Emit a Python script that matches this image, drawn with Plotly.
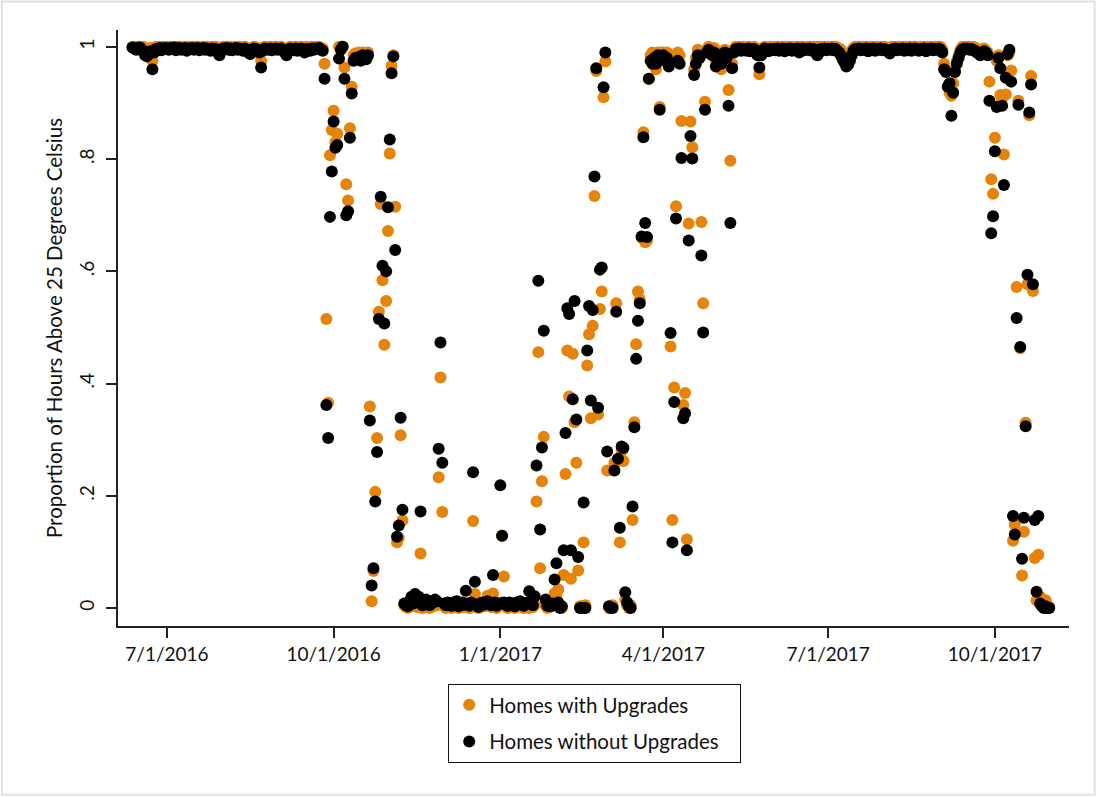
import pandas as pd
import plotly.graph_objects as go

# ---- data: daily proportion of hours above 25 C, by month ----
up_jun16 = [1.0, 1.0, 0.998, 1.0, 1.0, 0.997, 1.0, 0.995, 0.992, 0.995, 0.998, 0.975, 0.996, 1.0, 0.998, 1.0, 0.997, 1.0, 0.999]
no_jun16 = [0.999, 0.997, 0.995, 0.998, 0.999, 0.994, 0.993, 0.985, 0.983, 0.99, 0.992, 0.96, 0.99, 0.996, 0.995, 0.998, 0.994, 0.997, 0.998]
up_jul16 = [1.0, 0.998, 1.0, 0.999, 1.0, 0.997, 1.0, 1.0, 0.998, 0.999, 1.0, 0.996, 1.0, 0.999, 1.0, 0.998, 1.0, 1.0, 0.997, 0.999, 1.0, 0.998, 1.0, 0.999, 0.997, 1.0, 0.998, 1.0, 0.995, 0.99, 0.998]
no_jul16 = [0.997, 0.995, 0.998, 0.996, 0.999, 0.994, 0.997, 0.998, 0.995, 0.996, 0.998, 0.993, 0.997, 0.996, 0.998, 0.995, 0.997, 0.998, 0.994, 0.996, 0.998, 0.995, 0.997, 0.996, 0.993, 0.997, 0.995, 0.996, 0.99, 0.985, 0.994]
up_aug16 = [1.0, 0.999, 1.0, 0.998, 1.0, 0.997, 0.999, 1.0, 0.998, 1.0, 0.999, 0.997, 1.0, 0.998, 0.996, 0.993, 0.997, 1.0, 0.999, 0.998, 0.995, 0.975, 0.996, 1.0, 0.999, 0.998, 1.0, 0.997, 0.999, 1.0, 0.998]
no_aug16 = [0.997, 0.996, 0.998, 0.995, 0.997, 0.994, 0.996, 0.998, 0.995, 0.997, 0.996, 0.993, 0.997, 0.995, 0.99, 0.987, 0.992, 0.997, 0.996, 0.994, 0.99, 0.963, 0.993, 0.997, 0.996, 0.995, 0.997, 0.994, 0.996, 0.997, 0.995]
up_sep16 = [0.999, 1.0, 0.998, 0.996, 0.99, 0.997, 1.0, 0.999, 0.998, 1.0, 0.997, 0.999, 1.0, 0.998, 0.996, 1.0, 0.999, 0.997, 1.0, 0.998, 1.0, 0.999, 1.0, 0.998, 0.997, 0.97, 0.515, 0.366, 0.807, 0.852]
no_sep16 = [0.996, 0.997, 0.994, 0.99, 0.985, 0.993, 0.997, 0.995, 0.994, 0.997, 0.993, 0.995, 0.997, 0.994, 0.99, 0.996, 0.995, 0.993, 0.997, 0.995, 0.997, 0.996, 0.998, 0.995, 0.993, 0.943, 0.362, 0.303, 0.697, 0.778]
up_oct16 = [0.886, 0.83, 0.845, 1.0, 1.0, 1.0, 0.963, 0.755, 0.726, 0.855, 0.929, 0.985, 0.988, 0.985, 0.99, 0.985, 0.99, 0.988, 0.985, 0.99, 0.359, 0.012, 0.066, 0.207, 0.303, 0.528, 0.72, 0.584, 0.469, 0.547, 0.672]
no_oct16 = [0.867, 0.82, 0.825, 0.979, 0.995, 1.0, 0.943, 0.70, 0.707, 0.838, 0.917, 0.975, 0.98, 0.978, 0.982, 0.975, 0.985, 0.98, 0.978, 0.985, 0.334, 0.04, 0.071, 0.19, 0.278, 0.515, 0.733, 0.61, 0.507, 0.60, 0.714]
up_nov16 = [0.81, 0.966, 0.985, 0.715, 0.117, 0.125, 0.308, 0.156, 0.005, 0.002, 0.0, 0.008, 0.01, 0.003, 0.005, 0.002, 0.004, 0.097, 0.0, 0.003, 0.005, 0.002, 0.0, 0.006, 0.003, 0.008, 0.005, 0.233, 0.411, 0.171]
no_nov16 = [0.835, 0.953, 0.983, 0.638, 0.127, 0.147, 0.339, 0.175, 0.008, 0.005, 0.003, 0.012, 0.02, 0.008, 0.025, 0.012, 0.02, 0.172, 0.005, 0.01, 0.015, 0.008, 0.005, 0.012, 0.01, 0.015, 0.012, 0.284, 0.473, 0.259]
up_dec16 = [0.003, 0.0, 0.005, 0.002, 0.0, 0.004, 0.002, 0.006, 0.0, 0.003, 0.005, 0.002, 0.008, 0.003, 0.0, 0.005, 0.155, 0.025, 0.002, 0.0, 0.004, 0.006, 0.003, 0.005, 0.022, 0.004, 0.002, 0.026, 0.005, 0.0, 0.003]
no_dec16 = [0.008, 0.005, 0.01, 0.006, 0.004, 0.01, 0.005, 0.012, 0.003, 0.008, 0.01, 0.006, 0.031, 0.008, 0.004, 0.01, 0.242, 0.047, 0.006, 0.002, 0.008, 0.01, 0.006, 0.01, 0.012, 0.008, 0.005, 0.059, 0.01, 0.004, 0.008]
up_jan17 = [0.01, 0.129, 0.056, 0.003, 0.0, 0.005, 0.002, 0.004, 0.0, 0.006, 0.003, 0.005, 0.002, 0.0, 0.004, 0.003, 0.0, 0.005, 0.002, 0.006, 0.19, 0.456, 0.071, 0.226, 0.305, 0.005, 0.0, 0.003, 0.005, 0.01, 0.026]
no_jan17 = [0.219, 0.129, 0.01, 0.006, 0.004, 0.01, 0.005, 0.008, 0.003, 0.01, 0.008, 0.012, 0.006, 0.004, 0.008, 0.01, 0.03, 0.008, 0.005, 0.021, 0.254, 0.583, 0.14, 0.286, 0.494, 0.015, 0.004, 0.005, 0.003, 0.008, 0.051]
up_feb17 = [0.024, 0.033, 0.005, 0.0, 0.059, 0.239, 0.459, 0.377, 0.052, 0.453, 0.331, 0.259, 0.067, 0.003, 0.003, 0.117, 0.005, 0.432, 0.488, 0.338, 0.503, 0.734, 0.957, 0.345, 0.533, 0.564, 0.91, 0.974]
no_feb17 = [0.08, 0.01, 0.0, 0.003, 0.103, 0.312, 0.534, 0.524, 0.103, 0.372, 0.547, 0.336, 0.091, 0.0, 0.0, 0.188, 0.0, 0.459, 0.538, 0.37, 0.531, 0.769, 0.962, 0.357, 0.603, 0.607, 0.928, 0.99]
up_mar17 = [0.245, 0.0, 0.003, 0.005, 0.259, 0.543, 0.262, 0.117, 0.28, 0.262, 0.015, 0.005, 0.0, 0.005, 0.157, 0.331, 0.47, 0.564, 0.55, 0.66, 0.848, 0.652, 0.655, 0.943, 0.985, 0.99, 0.985, 0.96, 0.99, 0.893, 0.99]
no_mar17 = [0.279, 0.003, 0.0, 0.0, 0.245, 0.528, 0.266, 0.143, 0.288, 0.285, 0.028, 0.01, 0.003, 0.0, 0.181, 0.322, 0.444, 0.512, 0.543, 0.662, 0.839, 0.686, 0.661, 0.943, 0.975, 0.97, 0.98, 0.97, 0.985, 0.888, 0.98]
up_apr17 = [0.99, 0.985, 0.99, 0.98, 0.466, 0.157, 0.393, 0.716, 0.99, 0.985, 0.868, 0.362, 0.383, 0.122, 0.685, 0.867, 0.821, 0.96, 0.98, 0.995, 0.99, 0.688, 0.543, 0.902, 0.995, 1.0, 0.995, 0.99, 0.998, 0.975]
no_apr17 = [0.985, 0.975, 0.98, 0.965, 0.49, 0.117, 0.367, 0.694, 0.975, 0.97, 0.802, 0.338, 0.347, 0.103, 0.655, 0.841, 0.801, 0.95, 0.97, 0.985, 0.98, 0.628, 0.491, 0.888, 0.99, 0.995, 0.99, 0.985, 0.99, 0.965]
up_may17 = [0.985, 0.99, 0.96, 0.99, 0.995, 0.985, 0.923, 0.797, 0.97, 0.995, 1.0, 0.998, 1.0, 0.997, 1.0, 0.999, 0.998, 1.0, 0.997, 0.999, 1.0, 0.998, 0.995, 0.951, 0.99, 0.998, 1.0, 0.999, 0.997, 1.0, 0.998]
no_may17 = [0.975, 0.985, 0.97, 0.985, 0.99, 0.98, 0.895, 0.686, 0.962, 0.99, 0.996, 0.994, 0.997, 0.993, 0.996, 0.995, 0.993, 0.997, 0.992, 0.995, 0.996, 0.993, 0.985, 0.963, 0.985, 0.994, 0.997, 0.995, 0.992, 0.996, 0.994]
up_jun17 = [1.0, 0.999, 1.0, 0.998, 1.0, 1.0, 0.997, 1.0, 0.999, 1.0, 0.998, 1.0, 0.999, 1.0, 0.997, 1.0, 1.0, 0.998, 1.0, 0.999, 1.0, 0.998, 1.0, 0.999, 1.0, 0.997, 1.0, 0.999, 1.0, 0.998]
no_jun17 = [0.996, 0.994, 0.997, 0.993, 0.996, 0.997, 0.992, 0.996, 0.995, 0.997, 0.993, 0.996, 0.994, 0.997, 0.99, 0.995, 0.997, 0.994, 0.996, 0.995, 0.997, 0.993, 0.996, 0.994, 0.985, 0.99, 0.996, 0.995, 0.997, 0.994]
up_jul17 = [1.0, 0.999, 1.0, 0.998, 1.0, 0.999, 0.997, 0.995, 0.99, 0.985, 0.98, 0.982, 0.988, 0.993, 0.998, 1.0, 0.999, 1.0, 0.998, 1.0, 0.999, 1.0, 0.997, 1.0, 0.999, 1.0, 0.998, 1.0, 0.999, 1.0, 0.998]
no_jul17 = [0.996, 0.995, 0.997, 0.994, 0.996, 0.993, 0.99, 0.985, 0.978, 0.972, 0.965, 0.968, 0.975, 0.985, 0.993, 0.996, 0.995, 0.997, 0.994, 0.996, 0.995, 0.997, 0.992, 0.996, 0.994, 0.997, 0.993, 0.996, 0.995, 0.997, 0.994]
up_aug17 = [1.0, 0.999, 0.998, 0.996, 1.0, 0.999, 1.0, 0.998, 1.0, 0.999, 1.0, 0.997, 1.0, 0.999, 1.0, 0.998, 1.0, 1.0, 0.999, 0.998, 1.0, 0.999, 1.0, 0.997, 1.0, 0.999, 1.0, 0.998, 1.0, 0.999, 1.0]
no_aug17 = [0.996, 0.994, 0.992, 0.988, 0.995, 0.996, 0.997, 0.994, 0.996, 0.995, 0.997, 0.993, 0.996, 0.994, 0.997, 0.993, 0.996, 0.997, 0.995, 0.993, 0.996, 0.995, 0.997, 0.992, 0.996, 0.995, 0.997, 0.994, 0.996, 0.995, 0.997]
up_sep17 = [1.0, 0.995, 0.97, 0.96, 0.93, 0.918, 0.913, 0.935, 0.96, 0.975, 0.985, 0.995, 1.0, 0.999, 1.0, 0.998, 1.0, 0.999, 1.0, 0.998, 0.997, 0.995, 0.993, 0.995, 0.997, 0.994, 0.99, 0.938, 0.764, 0.738]
no_sep17 = [0.995, 0.99, 0.96, 0.955, 0.929, 0.935, 0.877, 0.918, 0.955, 0.97, 0.98, 0.99, 0.995, 0.997, 0.996, 0.997, 0.995, 0.996, 0.994, 0.993, 0.99, 0.988, 0.985, 0.99, 0.992, 0.99, 0.985, 0.904, 0.668, 0.698]
up_oct17 = [0.838, 0.975, 0.985, 0.914, 0.908, 0.808, 0.915, 0.985, 0.99, 0.958, 0.12, 0.149, 0.572, 0.904, 0.463, 0.058, 0.136, 0.33, 0.577, 0.878, 0.948, 0.565, 0.089, 0.014, 0.095, 0.02, 0.014, 0.008, 0.014, 0.005, 0.002]
no_oct17 = [0.814, 0.893, 0.98, 0.962, 0.895, 0.754, 0.945, 0.987, 0.995, 0.938, 0.164, 0.131, 0.517, 0.897, 0.465, 0.088, 0.161, 0.324, 0.594, 0.883, 0.933, 0.577, 0.157, 0.029, 0.164, 0.008, 0.003, 0.0, 0.003, 0.0, 0.0]

month_starts = ["2016-06-12", "2016-07-01", "2016-08-01", "2016-09-01", "2016-10-01",
                "2016-11-01", "2016-12-01", "2017-01-01", "2017-02-01", "2017-03-01",
                "2017-04-01", "2017-05-01", "2017-06-01", "2017-07-01", "2017-08-01",
                "2017-09-01", "2017-10-01"]
up_months = [up_jun16, up_jul16, up_aug16, up_sep16, up_oct16, up_nov16, up_dec16, up_jan17,
             up_feb17, up_mar17, up_apr17, up_may17, up_jun17, up_jul17, up_aug17, up_sep17, up_oct17]
no_months = [no_jun16, no_jul16, no_aug16, no_sep16, no_oct16, no_nov16, no_dec16, no_jan17,
             no_feb17, no_mar17, no_apr17, no_may17, no_jun17, no_jul17, no_aug17, no_sep17, no_oct17]

tick_dates = ["2016-07-01", "2016-10-01", "2017-01-01", "2017-04-01", "2017-07-01", "2017-10-01"]
tick_labels = ["7/1/2016", "10/1/2016", "1/1/2017", "4/1/2017", "7/1/2017", "10/1/2017"]
y_ticks = [0, 0.2, 0.4, 0.6, 0.8, 1.0]
y_labels = ["0", ".2", ".4", ".6", ".8", "1"]

series_names = ["Homes with Upgrades", "Homes without Upgrades"]
series_colors = ["rgb(230,132,10)", "black"]


def build(months):
    xs, ys = [], []
    for start, vals in zip(month_starts, months):
        xs.extend(pd.date_range(start, periods=len(vals), freq="D"))
        ys.extend(vals)
    return xs, ys


FONT = "Lato, 'Open Sans', sans-serif"
PAD = "\u00a0" * 3  # right padding inside the legend box
fig = go.Figure()
for i, (months, name, color) in enumerate(zip([up_months, no_months], series_names, series_colors)):
    xs, ys = build(months)
    fig.add_trace(go.Scatter(
        x=xs, y=ys, mode="markers", name=name + PAD, legendgroup=f"g{i}",
        marker=dict(color=color, size=12, line=dict(width=0)),
    ))

fig.update_layout(
    width=1097, height=798,
    paper_bgcolor="white", plot_bgcolor="white",
    margin=dict(l=118, r=28, t=30, b=172),
    font=dict(family=FONT, size=19, color="#111"),
    showlegend=True,
    legend=dict(
        x=0.347, y=-0.097, xanchor="left", yanchor="top",
        bordercolor="#111", borderwidth=1.2, bgcolor="white",
        font=dict(family=FONT, size=20.5, color="#111"),
        tracegroupgap=7, itemsizing="trace",
    ),
    xaxis=dict(
        type="date",
        range=["2016-06-04", "2017-11-10 22:00"],
        tickmode="array", tickvals=tick_dates, ticktext=tick_labels,
        showline=True, linecolor="#222", linewidth=1.6, mirror=False,
        ticks="outside", ticklen=10, tickwidth=1.5, tickcolor="#222",
        showgrid=False, zeroline=False,
        tickfont=dict(family=FONT, size=19, color="#111"),
    ),
    yaxis=dict(
        range=[-0.032, 1.030],
        tickmode="array", tickvals=y_ticks, ticktext=y_labels, tickangle=-90,
        showline=True, linecolor="#222", linewidth=1.6, mirror=False,
        ticks="outside", ticklen=10, tickwidth=1.5, tickcolor="#222",
        showgrid=False, zeroline=False, ticklabelstandoff=5,
        tickfont=dict(family=FONT, size=19, color="#111"),
        title=dict(text="Proportion of Hours Above 25 Degrees Celsius",
                   font=dict(family=FONT, size=20.5, color="#111"), standoff=6),
    ),
    shapes=[dict(type="rect", xref="paper", yref="paper",
                 x0=-0.122, x1=1.027, y0=-0.283, y1=1.048,
                 line=dict(color="#dce4ea", width=2), fillcolor="rgba(0,0,0,0)",
                 layer="below")],
)

fig.write_html("out.html", config={"displayModeBar": False},
               post_script="document.body.style.margin='0';document.body.style.padding='0';")
